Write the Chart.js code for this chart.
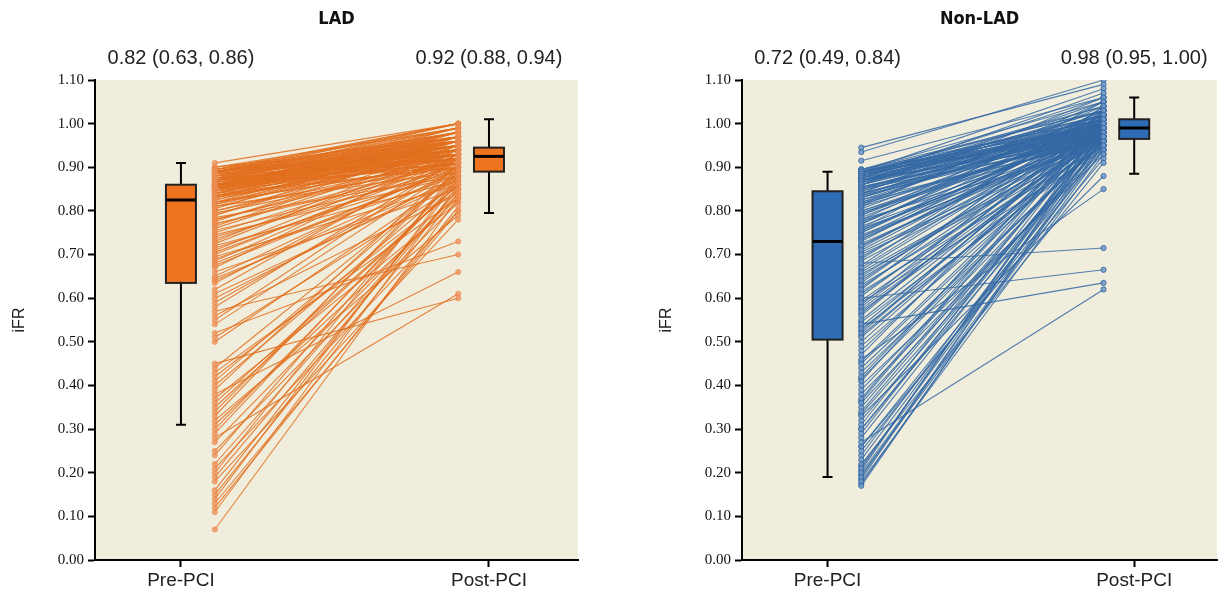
<!DOCTYPE html>
<html>
<head>
<meta charset="utf-8">
<script src="https://cdn.jsdelivr.net/npm/chart.js@4.4.0/dist/chart.umd.min.js"></script>
<style>
  body { margin: 0; background: #fff; width: 1222px; height: 594px; overflow: hidden; }
  .panel { position: absolute; top: 0; width: 611px; height: 594px; }
</style>
</head>
<body>
<div class="panel" style="left:0"><canvas id="ladChart" width="611" height="594"></canvas></div>
<div class="panel" style="left:611px"><canvas id="nonLadChart" width="611" height="594"></canvas></div>
<script>
// Paired iFR values, pre-PCI -> post-PCI
const categories = ['Pre-PCI', 'Post-PCI'];
const yTicks = [0, 0.1, 0.2, 0.3, 0.4, 0.5, 0.6, 0.7, 0.8, 0.9, 1.0, 1.1];

const ladPre = [
  0.07, 0.11, 0.13, 0.14, 0.15, 0.18, 0.20, 0.22, 0.25, 0.28, 0.30, 0.32, 0.33, 0.36, 0.38, 0.41, 0.43, 0.45, 0.50, 0.52, 0.55, 0.57, 0.59, 0.61, 0.62,
  0.12, 0.16, 0.19, 0.21, 0.24, 0.27, 0.29, 0.31, 0.34, 0.35, 0.37, 0.39, 0.40, 0.42, 0.44, 0.51, 0.54, 0.56, 0.58, 0.60,
  0.64, 0.65, 0.66, 0.67, 0.68, 0.69, 0.70, 0.71, 0.72, 0.73, 0.74, 0.75, 0.755, 0.76, 0.77, 0.775, 0.78, 0.785, 0.79, 0.80, 0.805, 0.81, 0.81, 0.815, 0.82,
  0.635, 0.645, 0.675, 0.685, 0.695, 0.705, 0.715, 0.725, 0.735, 0.745, 0.765, 0.77, 0.78, 0.79, 0.795, 0.80, 0.81, 0.815, 0.82, 0.82,
  0.82, 0.825, 0.83, 0.83, 0.835, 0.835, 0.84, 0.84, 0.84, 0.845, 0.845, 0.85, 0.85, 0.85, 0.85, 0.855, 0.855, 0.855, 0.86, 0.86, 0.86, 0.86, 0.86, 0.86, 0.86,
  0.825, 0.83, 0.83, 0.835, 0.84, 0.84, 0.845, 0.845, 0.85, 0.85, 0.85, 0.855, 0.855, 0.855, 0.86, 0.86, 0.86, 0.86, 0.86, 0.86,
  0.865, 0.865, 0.87, 0.87, 0.87, 0.87, 0.875, 0.875, 0.875, 0.88, 0.88, 0.88, 0.88, 0.885, 0.885, 0.885, 0.89, 0.89, 0.89, 0.89, 0.89, 0.895, 0.895, 0.90, 0.91,
  0.865, 0.865, 0.87, 0.87, 0.87, 0.875, 0.875, 0.88, 0.88, 0.88, 0.885, 0.885, 0.89, 0.89, 0.89, 0.89, 0.895, 0.895, 0.90, 0.90
];
const ladPost = [
  0.83, 0.86, 0.80, 0.88, 0.84, 0.78, 0.90, 0.85, 0.82, 0.61, 0.87, 0.79, 0.91, 0.86, 0.66, 0.89, 0.83, 0.60, 0.88, 0.73, 0.92, 0.70, 0.90, 0.87, 0.93,
  0.81, 0.87, 0.85, 0.80, 0.89, 0.84, 0.88, 0.83, 0.90, 0.86, 0.82, 0.91, 0.87, 0.85, 0.89, 0.86, 0.90, 0.84, 0.92, 0.88,
  0.89, 0.91, 0.85, 0.94, 0.90, 0.88, 0.92, 0.93, 0.87, 0.95, 0.90, 0.92, 0.89, 0.94, 0.91, 0.96, 0.93, 0.88, 0.95, 0.92, 0.97, 0.90, 0.94, 0.93, 0.96,
  0.92, 0.87, 0.90, 0.93, 0.86, 0.91, 0.89, 0.94, 0.92, 0.88, 0.95, 0.90, 0.92, 0.97, 0.91, 0.94, 0.89, 0.96, 0.93, 0.91,
  0.91, 0.95, 0.93, 0.98, 0.92, 0.94, 0.96, 0.90, 0.95, 0.93, 0.97, 0.92, 0.94, 0.99, 0.91, 0.95, 0.93, 0.96, 0.94, 0.92, 0.98, 0.95, 0.90, 0.93, 0.97,
  0.94, 0.92, 0.96, 0.90, 0.93, 0.97, 0.91, 0.95, 0.98, 0.93, 0.96, 0.92, 0.94, 0.99, 0.91, 0.95, 0.97, 0.93, 0.96, 0.94,
  0.94, 0.96, 0.92, 0.95, 0.99, 0.93, 0.97, 0.94, 1.00, 0.95, 0.92, 0.98, 0.96, 0.94, 0.99, 0.93, 0.97, 0.95, 1.00, 0.94, 0.98, 0.96, 0.99, 0.97, 1.00,
  0.95, 0.93, 0.97, 0.94, 0.98, 0.92, 0.96, 0.99, 0.94, 0.97, 0.95, 1.00, 0.93, 0.96, 0.98, 0.95, 0.97, 1.00, 0.96, 0.99
];

const nonLadPre = [
  0.17, 0.18, 0.19, 0.20, 0.21, 0.22, 0.23, 0.25, 0.27, 0.28, 0.30, 0.31, 0.33, 0.34, 0.36, 0.37, 0.39, 0.40, 0.42, 0.43, 0.45, 0.46, 0.47, 0.49, 0.50,
  0.175, 0.185, 0.195, 0.205, 0.215, 0.24, 0.26, 0.29, 0.32, 0.35, 0.38, 0.41, 0.44, 0.48, 0.26, 0.30, 0.335, 0.365, 0.415, 0.455,
  0.51, 0.52, 0.53, 0.54, 0.55, 0.56, 0.57, 0.58, 0.59, 0.60, 0.61, 0.62, 0.63, 0.64, 0.65, 0.66, 0.67, 0.68, 0.685, 0.69, 0.70, 0.71, 0.72, 0.725, 0.73,
  0.515, 0.525, 0.535, 0.545, 0.565, 0.575, 0.585, 0.595, 0.605, 0.615, 0.625, 0.635, 0.645, 0.655, 0.665, 0.675, 0.695, 0.705, 0.715, 0.72,
  0.735, 0.74, 0.745, 0.75, 0.755, 0.76, 0.765, 0.77, 0.775, 0.78, 0.785, 0.79, 0.795, 0.80, 0.805, 0.81, 0.815, 0.82, 0.825, 0.83, 0.83, 0.835, 0.84, 0.84, 0.845,
  0.735, 0.74, 0.75, 0.755, 0.76, 0.77, 0.775, 0.78, 0.79, 0.795, 0.80, 0.81, 0.815, 0.82, 0.825, 0.83, 0.835, 0.84, 0.84, 0.845,
  0.85, 0.85, 0.855, 0.86, 0.86, 0.865, 0.865, 0.87, 0.87, 0.87, 0.875, 0.875, 0.88, 0.88, 0.88, 0.885, 0.885, 0.89, 0.89, 0.89, 0.89, 0.895, 0.915, 0.935, 0.945,
  0.85, 0.855, 0.86, 0.86, 0.865, 0.87, 0.87, 0.875, 0.875, 0.88, 0.88, 0.885, 0.885, 0.89, 0.89, 0.89, 0.895, 0.895, 0.85, 0.87
];
const nonLadPost = [
  0.97, 0.93, 0.99, 0.95, 1.00, 0.91, 0.97, 0.94, 0.62, 0.98, 0.96, 1.01, 0.88, 0.99, 0.95, 1.02, 0.97, 0.93, 1.00, 0.96, 0.98, 0.85, 1.03, 0.97, 0.99,
  0.96, 0.99, 0.94, 1.01, 0.97, 0.98, 0.95, 1.00, 0.97, 0.99, 0.94, 1.02, 0.96, 1.00, 0.92, 0.98, 0.96, 1.01, 0.97, 0.99,
  0.98, 1.01, 0.95, 0.635, 0.99, 1.02, 0.97, 1.00, 0.94, 0.665, 0.98, 1.04, 0.96, 1.00, 0.99, 0.97, 1.01, 0.715, 0.98, 1.03, 0.96, 1.00, 0.99, 0.97, 1.02,
  0.97, 1.00, 0.99, 0.96, 1.01, 0.98, 1.03, 0.97, 1.00, 0.95, 0.99, 1.02, 0.98, 0.96, 1.00, 1.04, 0.99, 0.97, 1.01, 0.98,
  0.98, 1.01, 0.96, 1.00, 0.99, 1.05, 0.97, 1.02, 0.98, 0.95, 1.00, 1.03, 0.99, 0.97, 1.01, 0.98, 1.04, 0.96, 1.00, 0.99, 1.02, 0.97, 1.06, 0.98, 1.00,
  1.00, 0.97, 1.02, 0.99, 0.96, 1.01, 0.98, 1.03, 1.00, 0.97, 0.99, 1.05, 0.98, 1.01, 0.96, 1.00, 1.02, 0.99, 0.97, 1.01,
  0.99, 1.02, 0.97, 1.00, 1.05, 0.98, 1.01, 0.99, 1.03, 0.96, 1.00, 1.07, 0.98, 1.02, 1.00, 0.99, 1.04, 1.01, 0.97, 1.08, 1.00, 1.03, 1.06, 1.10, 1.09,
  1.01, 0.98, 1.03, 0.99, 1.00, 1.02, 0.97, 1.04, 0.99, 1.01, 1.06, 0.98, 1.02, 1.00, 1.03, 0.99, 1.01, 1.05, 0.96, 1.00
];

// box stats: [lower whisker, Q1, median, Q3, upper whisker]
const ladBoxPre = [0.31, 0.635, 0.825, 0.86, 0.91];
const ladBoxPost = [0.795, 0.89, 0.925, 0.945, 1.01];
const nonLadBoxPre = [0.19, 0.505, 0.73, 0.845, 0.89];
const nonLadBoxPost = [0.885, 0.965, 0.99, 1.01, 1.06];

const ladSummary = ['0.82 (0.63, 0.86)', '0.92 (0.88, 0.94)'];
const nonLadSummary = ['0.72 (0.49, 0.84)', '0.98 (0.95, 1.00)'];

// x positions of the paired points relative to the category ticks (0 and 1)
const PRE_X = 0.11;
const POST_X = 0.90;

const SANS = "'Liberation Sans', Arial, sans-serif";

const panelPlugin = {
  id: 'panelDecor',
  beforeDraw(chart) {
    const { ctx, chartArea: a } = chart;
    ctx.save();
    ctx.fillStyle = '#F0EDDC';
    ctx.fillRect(a.left, a.top, a.right - a.left, a.bottom - a.top);
    ctx.restore();
  },
  afterDatasetsDraw(chart, args, opts) {
    const { ctx, scales: { x, y } } = chart;
    ctx.save();
    opts.boxes.forEach((b, i) => {
      const cx = x.getPixelForValue(i);
      const [lo, q1, med, q3, hi] = b.map(v => y.getPixelForValue(v));
      ctx.strokeStyle = '#000';
      ctx.lineWidth = 2;
      // whiskers
      ctx.beginPath();
      ctx.moveTo(cx, hi); ctx.lineTo(cx, q3);
      ctx.moveTo(cx, q1); ctx.lineTo(cx, lo);
      ctx.moveTo(cx - 5, hi); ctx.lineTo(cx + 5, hi);
      ctx.moveTo(cx - 5, lo); ctx.lineTo(cx + 5, lo);
      ctx.stroke();
      // box
      ctx.fillStyle = opts.fill;
      ctx.fillRect(cx - 15, q3, 30, q1 - q3);
      ctx.strokeStyle = '#222';
      ctx.strokeRect(cx - 15, q3, 30, q1 - q3);
      // median
      ctx.strokeStyle = '#000';
      ctx.lineWidth = 3;
      ctx.beginPath();
      ctx.moveTo(cx - 15, med); ctx.lineTo(cx + 15, med);
      ctx.stroke();
    });
    ctx.restore();
  },
  afterDraw(chart, args, opts) {
    const { ctx, chartArea: a, scales: { x } } = chart;
    ctx.save();
    ctx.fillStyle = '#111';
    ctx.textAlign = 'center';
    ctx.textBaseline = 'middle';
    ctx.font = "bold 18px 'DejaVu Sans Condensed', 'DejaVu Sans', sans-serif";
    ctx.fillText(opts.title, (a.left + a.right) / 2, 19);
    ctx.font = '20px ' + SANS;
    ctx.fillStyle = '#222';
    opts.summary.forEach((s, i) => ctx.fillText(s, x.getPixelForValue(i), 58));
    ctx.restore();
  }
};

function pairDatasets(pre, post, line, pointFill, pointBorder) {
  return pre.map((v, i) => ({
    data: [{ x: PRE_X, y: v }, { x: POST_X, y: post[i] }],
    borderColor: line,
    borderWidth: 1.1,
    pointRadius: 2.6,
    pointBackgroundColor: pointFill,
    pointBorderColor: pointBorder,
    pointBorderWidth: 1
  }));
}

function makeChart(id, cfg) {
  return new Chart(document.getElementById(id).getContext('2d'), {
    type: 'line',
    data: { datasets: pairDatasets(cfg.pre, cfg.post, cfg.line, cfg.pointFill, cfg.pointBorder) },
    options: {
      responsive: false,
      animation: false,
      events: [],
      layout: { padding: { top: 80, left: cfg.padLeft, right: cfg.padRight, bottom: 0 } },
      scales: {
        x: {
          type: 'linear',
          min: -0.279,
          max: cfg.xMax,
          afterBuildTicks: s => { s.ticks = categories.map((c, i) => ({ value: i })); },
          afterFit: s => { s.height = 34; },
          ticks: {
            callback: v => categories[v],
            font: { family: SANS, size: 19 },
            color: '#222',
            padding: 2,
            maxRotation: 0
          },
          grid: { drawOnChartArea: false, drawTicks: true, tickLength: 7, tickWidth: 2, color: '#000' },
          border: { color: '#000', width: 2 }
        },
        y: {
          min: 0,
          max: 1.1,
          afterBuildTicks: s => { s.ticks = yTicks.map(v => ({ value: v })); },
          afterFit: s => { s.width = 89; },
          ticks: {
            callback: v => v.toFixed(2),
            font: { family: "'Liberation Serif', 'Times New Roman', serif", size: 15 },
            color: '#111',
            padding: 4
          },
          grid: { drawOnChartArea: false, drawTicks: true, tickLength: 7, tickWidth: 2, color: '#000' },
          border: { color: '#000', width: 2 },
          title: { display: true, text: 'iFR', font: { family: SANS, size: 16 }, color: '#222', padding: { top: 4, bottom: 0 } }
        }
      },
      plugins: {
        legend: { display: false },
        tooltip: { enabled: false },
        panelDecor: { boxes: cfg.boxes, fill: cfg.boxFill, title: cfg.title, summary: cfg.summary }
      }
    },
    plugins: [panelPlugin]
  });
}

makeChart('ladChart', {
  pre: ladPre, post: ladPost,
  line: 'rgba(226, 112, 30, 0.85)', pointFill: 'rgba(236, 140, 80, 0.7)', pointBorder: 'rgba(236, 140, 80, 0.7)',
  boxes: [ladBoxPre, ladBoxPost], boxFill: '#EE7420',
  title: 'LAD', summary: ladSummary,
  padLeft: 6, padRight: 33, xMax: 1.289
});

makeChart('nonLadChart', {
  pre: nonLadPre, post: nonLadPost,
  line: 'rgba(52, 104, 164, 0.85)', pointFill: 'rgba(110, 150, 200, 0.8)', pointBorder: 'rgba(52, 104, 164, 0.9)',
  boxes: [nonLadBoxPre, nonLadBoxPost], boxFill: '#2E6DB4',
  title: 'Non-LAD', summary: nonLadSummary,
  padLeft: 42, padRight: 0, xMax: 1.27
});
</script>
</body>
</html>
